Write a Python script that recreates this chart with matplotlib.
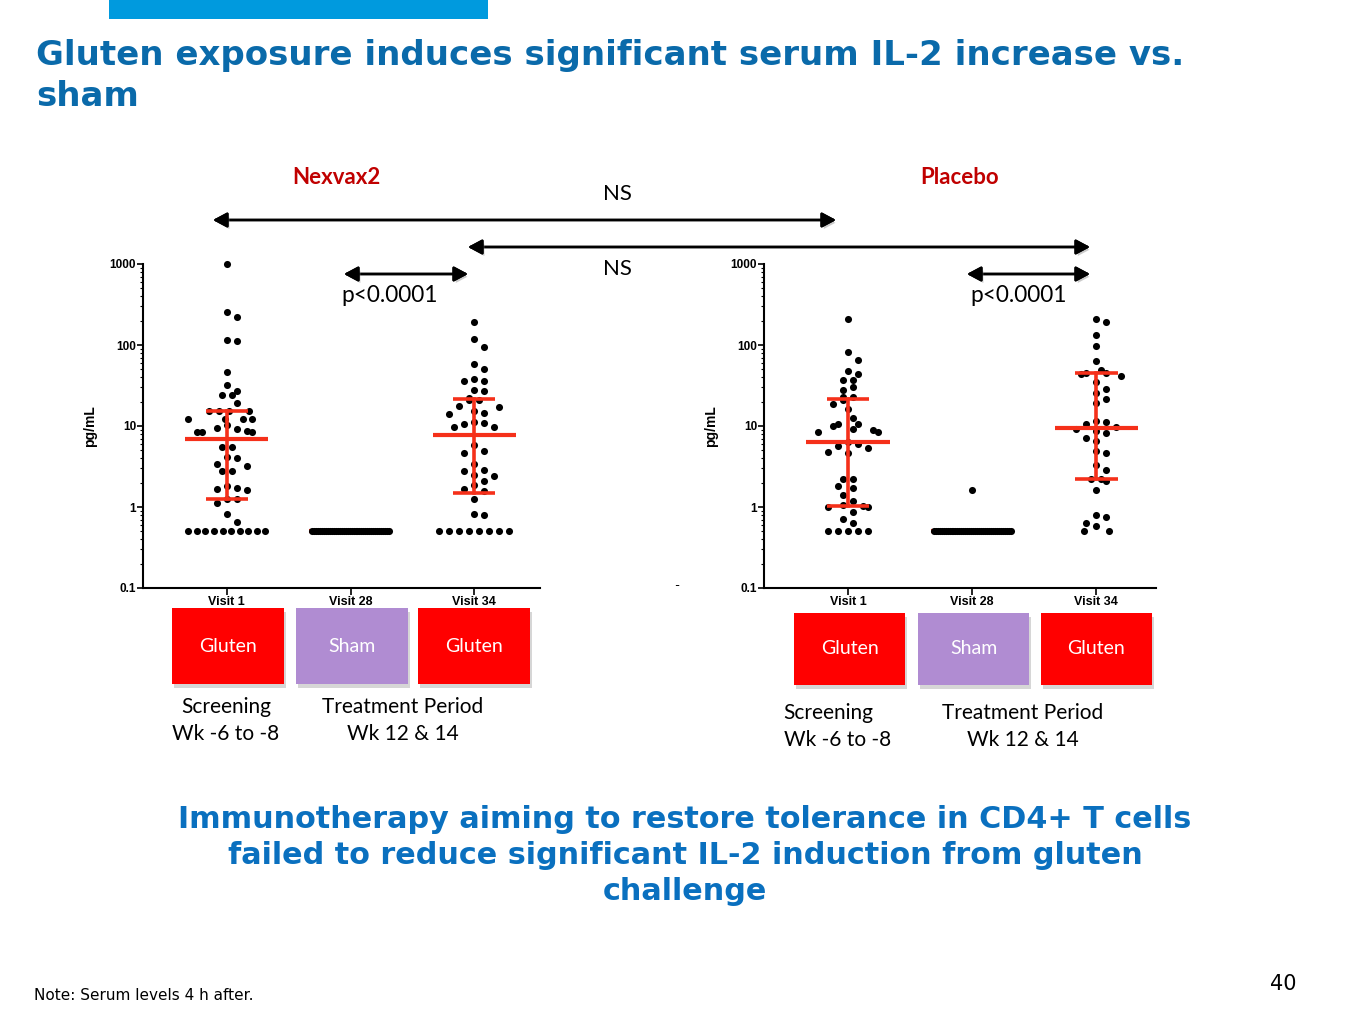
import numpy as np
import matplotlib
matplotlib.use('Agg')
import matplotlib.pyplot as plt
import matplotlib.patheffects as pe
from matplotlib.patches import Rectangle, FancyArrowPatch

# ---- data (pg/mL) ----
visits = ['Visit 1', 'Visit 28', 'Visit 34']

nex_v1 = [1000, 252, 221, 116, 113, 46.6, 32.5, 27.4, 23.9, 23.9, 19.1,
          15.2, 15.2, 15.2, 15.2, 12.1, 12.1, 12.1, 12.1, 10.3, 9.4, 9.2,
          8.6, 8.5, 8.5, 8.4, 5.5, 5.5, 4.1, 4.0, 3.4, 3.2, 2.8, 2.8, 1.8,
          1.7, 1.65, 1.6, 1.27, 1.25, 1.12, 0.83, 0.66] + [0.5] * 10
nex_v28 = [0.5] * 40
nex_v34 = [193, 118, 94, 58, 51, 38, 36, 36, 28, 27, 22, 21, 21, 17.6, 17,
           15.5, 14.6, 14, 11.2, 10.8, 10.5, 9.8, 9.6, 5.9, 4.9, 4.7, 3.4,
           2.85, 2.75, 2.5, 2.4, 2.1, 1.85, 1.65, 1.57, 1.24, 0.83, 0.80] + [0.5] * 8
nex_mean = [6.84, 0.5, 7.74]
nex_hi = [15.2, 0.5, 21.5]
nex_lo = [1.26, 0.5, 1.47]

pla_v1 = [209, 81, 65, 47.7, 43.6, 36.5, 36.5, 30.6, 27.6, 23, 23, 21, 18.6,
          16.2, 12.5, 10.7, 10.7, 9.9, 9.3, 9.0, 8.4, 8.4, 6.3, 6.0, 5.6, 5.3,
          4.8, 4.6, 2.2, 2.2, 1.8, 1.7, 1.4, 1.18, 1.05, 1.03, 1.0, 1.0, 0.86,
          0.72, 0.64] + [0.5] * 5
pla_v28 = [1.6] + [0.5] * 40
pla_v34 = [209, 194, 134, 98, 63, 49.5, 45, 45, 44, 42, 35, 29, 25.8, 21.5,
           19, 11.4, 11.2, 10.7, 9.7, 9.1, 8.6, 8.2, 7.2, 6.5, 4.9, 4.7, 3.3,
           2.85, 2.2, 2.2, 2.1, 1.64, 0.8, 0.75, 0.64, 0.58, 0.5, 0.5]
pla_mean = [6.3, 0.5, 9.35]
pla_hi = [21.8, 0.5, 44.6]
pla_lo = [1.04, 0.5, 2.23]

BLUE_BAR = '#009ade'
TITLE_BLUE = '#0a6aaa'
TEXT_BLUE = '#0a70bf'
DARK_RED = '#c00000'
BAR_RED = '#f5301a'
GLUTEN = '#ff0000'
SHAM = '#b08cd2'
CAL = ['Lato', 'DejaVu Sans']
ARIAL = 'Liberation Sans'

W, H = 1365, 1024
fig = plt.figure(figsize=(W / 100, H / 100), dpi=100)
fig.patch.set_facecolor('white')


def fx(x):
    return x / W


def fy(y):
    return 1 - y / H


def swarm(vals, px_unit=124, px_dec=81, step=10, mind=9.6, maxw=0.31):
    vals = np.asarray(vals, dtype=float)
    ys = np.log10(vals) * px_dec
    cands = [0.0] + [s * j * step / 2 for j in range(1, 200) for s in (1, -1)]
    placed = []
    off = np.zeros(len(vals))
    for i in np.argsort(-vals, kind='stable'):
        for c in cands:
            if all((c - a) ** 2 + (ys[i] - b) ** 2 >= mind ** 2 for a, b in placed):
                break
        placed.append((c, ys[i]))
        off[i] = c
    off = off / px_unit
    for v in np.unique(vals):
        m = vals == v
        if m.sum() > 1:
            off[m] -= off[m].mean()
            w = np.abs(off[m]).max()
            if w > maxw:
                off[m] *= maxw / w
    return off


def dot_panel(rect, groups, mean, lo, hi, xmax):
    ax = fig.add_axes(rect)
    for i, g in enumerate(groups):
        ax.scatter(i + swarm(g), g, s=26, color='black', zorder=3, linewidths=0,
                   clip_on=False)
        zl = 2 if i == 1 else 4
        ax.plot([i - 0.335, i + 0.335], [mean[i], mean[i]], color=BAR_RED, lw=3, zorder=zl,
                solid_capstyle='butt')
        if hi[i] != lo[i]:
            ax.plot([i, i], [lo[i], hi[i]], color=BAR_RED, lw=2.6, zorder=4)
            for v in (lo[i], hi[i]):
                ax.plot([i - 0.17, i + 0.17], [v, v], color=BAR_RED, lw=2.6, zorder=4,
                        solid_capstyle='butt')
    ax.set_yscale('log')
    ax.set_ylim(0.1, 1000)
    ax.set_xlim(-0.677, xmax)
    ax.set_yticks([0.1, 1, 10, 100, 1000])
    ax.set_yticklabels(['0.1', '1', '10', '100', '1000'], fontsize=8.5, fontweight='bold',
                       family=ARIAL)
    ax.set_xticks(range(3))
    ax.set_xticklabels(visits, fontsize=9, fontweight='bold', family=ARIAL)
    ax.tick_params(axis='y', which='major', length=4, width=1.2, pad=1)
    ax.tick_params(axis='y', which='minor', length=2.5, width=0.8)
    ax.tick_params(axis='x', length=5, width=1.2, pad=0.5)
    for s in ('top', 'right'):
        ax.spines[s].set_visible(False)
    for s in ('left', 'bottom'):
        ax.spines[s].set_linewidth(1.5)
    ax.set_ylabel('pg/mL', fontsize=10, fontweight='bold', family=ARIAL, labelpad=9)
    return ax


dot_panel([fx(143), fy(588), fx(540) - fx(143), fy(264) - fy(588)],
          [nex_v1, nex_v28, nex_v34], nex_mean, nex_lo, nex_hi, 2.53)
dot_panel([fx(764), fy(588), fx(1156) - fx(764), fy(264) - fy(588)],
          [pla_v1, pla_v28, pla_v34], pla_mean, pla_lo, pla_hi, 2.48)

# ---- slide decoration ----
fig.add_artist(Rectangle((fx(109), fy(19)), fx(488) - fx(109), fy(0) - fy(19),
                         transform=fig.transFigure, color=BLUE_BAR, lw=0))
for y, line in [(56, 'Gluten exposure induces significant serum IL-2 increase vs.'),
                (97, 'sham')]:
    fig.text(fx(36), fy(y), line, fontsize=24.5, fontweight='bold', color=TITLE_BLUE,
             family='DejaVu Sans', va='center', ha='left')

fig.text(fx(336), fy(178), 'Nexvax2', fontsize=16, fontweight='bold', color=DARK_RED,
         family=CAL, ha='center', va='center')
fig.text(fx(960), fy(178), 'Placebo', fontsize=16, fontweight='bold', color=DARK_RED,
         family=CAL, ha='center', va='center')
fig.text(fx(617), fy(194), 'NS', fontsize=16, family=CAL, ha='center', va='center')
fig.text(fx(617), fy(269), 'NS', fontsize=16, family=CAL, ha='center', va='center')
fig.text(fx(390), fy(296), 'p<0.0001', fontsize=16.3, family=CAL, ha='center', va='center')
fig.text(fx(1019), fy(296), 'p<0.0001', fontsize=16.3, family=CAL, ha='center', va='center')
fig.text(fx(677), fy(586), '-', fontsize=10, family=CAL, ha='center', va='center')

shadow = [pe.withSimplePatchShadow(offset=(1.5, -2), shadow_rgbFace='#999999', alpha=0.5),
          pe.Normal()]
for x0, x1, y in [(213, 836, 220), (468, 1090, 247), (344, 468, 274), (967, 1090, 274)]:
    arr = FancyArrowPatch((fx(x0), fy(y)), (fx(x1), fy(y)), transform=fig.transFigure,
                          arrowstyle='<|-|>,head_length=0.6,head_width=0.32',
                          mutation_scale=14, lw=1.8, color='black', shrinkA=0, shrinkB=0)
    arr.set_path_effects(shadow)
    fig.add_artist(arr)

box_specs = [
    (172, 284, 608, 684, GLUTEN, 'Gluten'), (296, 408, 608, 684, SHAM, 'Sham'),
    (418, 530, 608, 684, GLUTEN, 'Gluten'),
    (794, 905, 613, 685, GLUTEN, 'Gluten'), (918, 1029, 613, 685, SHAM, 'Sham'),
    (1041, 1152, 613, 685, GLUTEN, 'Gluten'),
]
box_shadow = [pe.withSimplePatchShadow(offset=(1.5, -3), shadow_rgbFace='#999999', alpha=0.4),
              pe.Normal()]
for x0, x1, y0, y1, col, lab in box_specs:
    r = Rectangle((fx(x0), fy(y1)), fx(x1) - fx(x0), fy(y0) - fy(y1),
                  transform=fig.transFigure, color=col, lw=0)
    r.set_path_effects(box_shadow)
    fig.add_artist(r)
    fig.text(fx((x0 + x1) / 2), fy((y0 + y1) / 2), lab, fontsize=14, color='white',
             family=CAL, ha='center', va='center')

period_text = [
    (226, 707, 'Screening', 'center'), (226, 734, 'Wk -6 to -8', 'center'),
    (403, 707, 'Treatment Period', 'center'), (403, 734, 'Wk 12 & 14', 'center'),
    (783, 713, 'Screening', 'left'), (784, 740, 'Wk -6 to -8', 'left'),
    (1023, 713, 'Treatment Period', 'center'), (1023, 740, 'Wk 12 & 14', 'center'),
]
for x, y, s, ha in period_text:
    fig.text(fx(x), fy(y), s, fontsize=15, family=CAL, ha=ha, va='center')

for y, line in [(819, 'Immunotherapy aiming to restore tolerance in CD4+ T cells'),
                (855, 'failed to reduce significant IL-2 induction from gluten'),
                (891, 'challenge')]:
    fig.text(fx(685), fy(y), line, fontsize=21.8, fontweight='bold', color=TEXT_BLUE,
             family='DejaVu Sans', ha='center', va='center')

fig.text(fx(34), fy(996), 'Note: Serum levels 4 h after.', fontsize=11, family='DejaVu Sans',
         ha='left', va='center')
fig.text(fx(1283), fy(984), '40', fontsize=15, family='DejaVu Sans', ha='center', va='center')

fig.savefig('out.png', dpi=100)
